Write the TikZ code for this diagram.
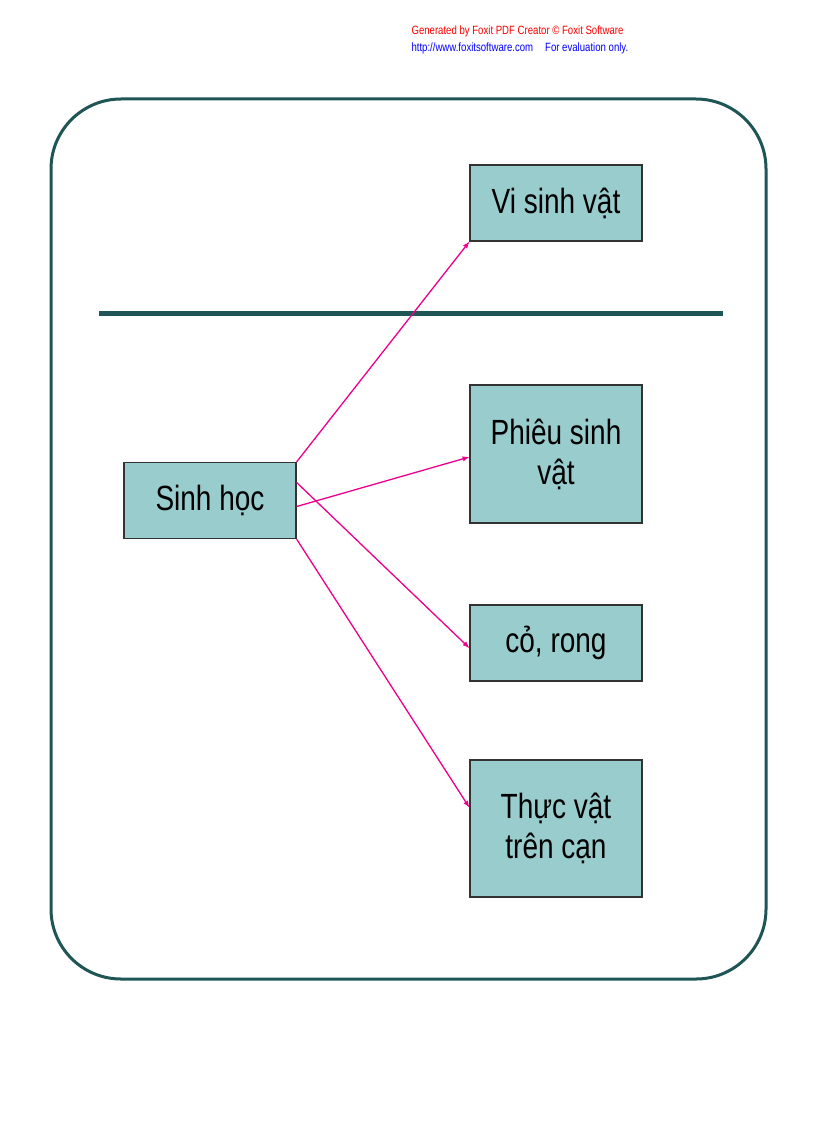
\documentclass[tikz,border=0pt]{standalone}
\usepackage{fontspec}
\setmainfont{Liberation Sans}
\newfontfamily\narrowf[FakeStretch=0.8]{Liberation Sans}
\definecolor{teal1}{HTML}{1F5555}
\definecolor{boxc}{HTML}{99CCCC}
\begin{document}
\begin{tikzpicture}[x=1pt,y=-1pt,
  bx/.style={draw=black!80,fill=boxc,line width=1.3pt,minimum width=172pt,align=center,font=\narrowf\fontsize{35}{40}\selectfont,inner sep=0pt},
  ar/.style={magenta,line width=1.3pt,-latex}]
\useasboundingbox (0,0) rectangle (816,1123);
\node[red,font=\narrowf\fontsize{12}{13}\selectfont,anchor=west] (h1) at (408,31) {Generated by Foxit PDF Creator © Foxit Software};
\node[blue,font=\narrowf\fontsize{12}{13}\selectfont,anchor=west] (h2) at (408,48) {http://www.foxitsoftware.com\quad For evaluation only.};
\draw[teal1,line width=3pt,rounded corners=70pt] (51,99) rectangle (766,979);
\draw[teal1,line width=5pt] (99,313) -- (723,313);
\node[bx,minimum height=76pt] (s) at (210,500.5) {Sinh học};
\node[bx,minimum height=76pt] (a) at (556,203) {Vi sinh vật};
\node[bx,minimum height=138pt] (b) at (556,454) {Phiêu sinh\\vật};
\node[bx,minimum height=76pt] (c) at (556,643) {cỏ, rong};
\node[bx,minimum height=137pt] (d) at (556,828.5) {Thực vật\\trên cạn};
\draw[ar] (s.north east) -- (a.south west);
\draw[ar] ([yshift=-6pt]s.east) -- ([yshift=-3pt]b.west);
\draw[ar] ([yshift=18pt]s.east) -- ([yshift=-5pt]c.west);
\draw[ar] (s.south east) -- ([yshift=21pt]d.west);
\end{tikzpicture}
\end{document}
